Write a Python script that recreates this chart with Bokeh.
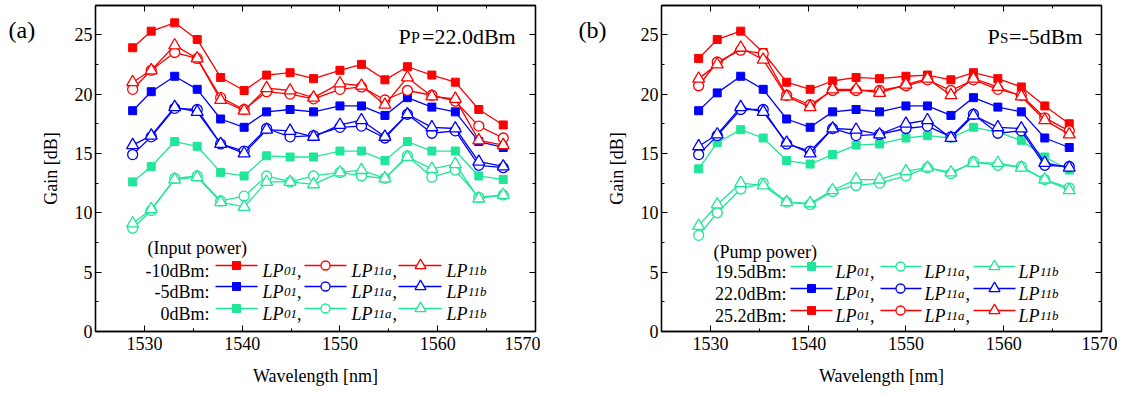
from bokeh.plotting import figure
from bokeh.layouts import row
from bokeh.models import LinearAxis, SingleIntervalTicker, Range1d, Label
from bokeh.embed import file_html
from bokeh.resources import INLINE

# ---------------- data ----------------
wavelength = [1528.8, 1530.7, 1533.1, 1535.4, 1537.8, 1540.2, 1542.5, 1544.9, 1547.3,
              1550.0, 1552.2, 1554.6, 1556.9, 1559.4, 1561.8, 1564.2, 1566.7]

# (a) Pp = 22.0 dBm, input power -10 / -5 / 0 dBm
a_m10_lp01 = [23.9, 25.3, 26.0, 24.6, 21.4, 20.3, 21.6, 21.8, 21.3, 22.0, 22.5, 21.2, 22.3, 21.6, 21.0, 18.7, 17.4]
a_m10_lp11a = [20.4, 22.0, 23.5, 23.0, 19.7, 18.7, 20.2, 20.0, 19.6, 20.4, 20.6, 19.5, 20.3, 19.9, 19.4, 17.3, 16.3]
a_m10_lp11b = [21.0, 22.0, 24.1, 23.0, 19.5, 18.6, 20.5, 20.3, 19.7, 20.9, 20.7, 19.1, 21.4, 19.8, 19.6, 16.1, 15.7]
a_m5_lp01 = [18.6, 20.2, 21.5, 20.4, 17.9, 17.2, 18.5, 18.7, 18.5, 19.0, 19.0, 18.2, 19.7, 18.9, 18.5, 16.0, 15.5]
a_m5_lp11a = [14.9, 16.4, 18.8, 18.7, 15.8, 15.2, 17.1, 16.4, 16.5, 17.2, 17.3, 16.3, 18.3, 16.7, 16.9, 14.0, 13.8]
a_m5_lp11b = [15.7, 16.5, 18.9, 18.5, 15.8, 15.0, 17.0, 16.9, 16.4, 17.4, 17.8, 16.4, 18.3, 17.2, 17.1, 14.3, 13.9]
a_0_lp01 = [12.6, 13.9, 16.0, 15.6, 13.4, 13.1, 14.8, 14.7, 14.7, 15.2, 15.2, 14.4, 16.0, 15.2, 15.2, 13.1, 12.8]
a_0_lp11a = [8.7, 10.2, 12.9, 13.1, 11.0, 11.4, 13.1, 12.6, 13.1, 13.4, 13.1, 12.9, 14.8, 13.0, 13.6, 11.3, 11.5]
a_0_lp11b = [9.1, 10.3, 12.8, 13.0, 10.9, 10.5, 12.6, 12.6, 12.4, 13.4, 13.6, 12.9, 14.7, 13.7, 14.1, 11.2, 11.5]

# (b) Ps = -5 dBm, pump power 19.5 / 22.0 / 25.2 dBm
b_252_lp01 = [23.0, 24.6, 25.3, 23.5, 21.0, 20.4, 21.1, 21.4, 21.3, 21.5, 21.6, 21.2, 21.8, 21.3, 20.6, 19.0, 17.5]
b_252_lp11a = [20.7, 22.7, 23.7, 23.4, 19.9, 19.1, 20.3, 20.3, 20.3, 20.7, 21.2, 20.3, 21.2, 20.4, 19.9, 18.0, 16.9]
b_252_lp11b = [21.3, 22.5, 23.9, 22.9, 19.8, 18.9, 20.4, 20.4, 20.1, 20.8, 21.3, 19.9, 21.3, 20.6, 19.8, 17.8, 16.6]
b_220_lp01 = [18.6, 20.1, 21.5, 20.4, 17.9, 17.2, 18.5, 18.7, 18.5, 19.0, 19.0, 18.2, 19.7, 18.9, 18.5, 16.3, 15.5]
b_220_lp11a = [14.9, 16.5, 18.7, 18.7, 15.8, 15.2, 17.1, 16.5, 16.6, 17.1, 17.3, 16.4, 18.3, 16.7, 16.9, 14.0, 13.9]
b_220_lp11b = [15.6, 16.6, 18.9, 18.5, 15.9, 15.0, 17.1, 17.0, 16.6, 17.5, 17.8, 16.3, 18.2, 17.2, 17.1, 14.2, 13.8]
b_195_lp01 = [13.7, 15.9, 17.0, 16.3, 14.4, 14.1, 14.9, 15.7, 15.8, 16.3, 16.5, 16.3, 17.2, 16.8, 16.1, 14.7, 13.6]
b_195_lp11a = [8.1, 10.0, 12.0, 12.5, 10.9, 10.7, 11.8, 12.3, 12.5, 13.1, 13.8, 13.3, 14.3, 14.0, 13.9, 12.8, 12.1]
b_195_lp11b = [8.9, 10.7, 12.5, 12.3, 10.9, 10.8, 11.9, 12.8, 12.8, 13.5, 13.8, 13.4, 14.2, 14.2, 13.8, 12.8, 11.9]

a_row_labels = ["-10dBm:", "-5dBm:", "0dBm:"]
b_row_labels = ["19.5dBm:", "22.0dBm:", "25.2dBm:"]
mode_names = [("LP", "01", ","), ("LP", "11a", ","), ("LP", "11b", "")]
x_axis_label = "Wavelength [nm]"
y_axis_label = "Gain [dB]"

RED = "#FF0000"
BLUE = "#0000FF"
GREEN = "#1FE698"
FONT = "Liberation Serif"

# ---------------- layout helpers ----------------
X0, X1, Y0, Y1 = 1525, 1570, 0, 27.46
FW, FH = 440, 326
FT = 5
FB = FT + FH  # frame bottom (page px)


def dx(px, fl):
    return X0 + (px - fl) * (X1 - X0) / FW


def dy(py):
    return (FB - py) * (Y1 - Y0) / FH


def mklabel(x, y, text, size, style="normal", align="left"):
    return Label(x=x, y=y, text=text, text_font=FONT, text_font_size=size,
                 text_font_style=style, text_align=align, text_baseline="alphabetic",
                 text_color="black")


def lab(p, x, y, text, size, style="normal", align="left"):
    p.add_layout(mklabel(x, y, text, size, style, align))


def make_fig(mb_left, mb_right):
    p = figure(frame_width=FW, frame_height=FH, x_range=Range1d(X0, X1), y_range=Range1d(Y0, Y1),
               output_backend="svg", toolbar_location=None,
               min_border_left=mb_left, min_border_right=mb_right,
               min_border_top=FT, min_border_bottom=394 - FB,
               styles={"overflow": "hidden"})
    p.xgrid.visible = False
    p.ygrid.visible = False
    p.outline_line_color = "black"
    p.outline_line_width = 1.3
    p.background_fill_color = "white"
    p.border_fill_color = "white"
    p.xaxis.ticker = SingleIntervalTicker(interval=10, num_minor_ticks=2)
    p.yaxis.ticker = SingleIntervalTicker(interval=5, num_minor_ticks=2)
    for ax in (p.xaxis[0], p.yaxis[0]):
        ax.axis_line_color = "black"
        ax.axis_line_width = 1.3
        ax.major_tick_in = 6
        ax.major_tick_out = 0
        ax.minor_tick_in = 3
        ax.minor_tick_out = 0
        ax.major_tick_line_color = "black"
        ax.minor_tick_line_color = "black"
        ax.major_label_text_font = FONT
        ax.major_label_text_font_size = "18px"
        ax.major_label_text_color = "black"
        ax.axis_label_text_font = FONT
        ax.axis_label_text_font_size = "18px"
        ax.axis_label_text_font_style = "normal"
        ax.axis_label_text_color = "black"
    p.xaxis.axis_label = x_axis_label
    p.yaxis.axis_label = y_axis_label
    p.xaxis.major_label_standoff = 5
    p.yaxis.major_label_standoff = 3
    p.xaxis.axis_label_standoff = 13
    p.yaxis.axis_label_standoff = 11
    for loc, interval in (("above", 10), ("right", 5)):
        ax = LinearAxis(ticker=SingleIntervalTicker(interval=interval, num_minor_ticks=2),
                        major_label_text_font_size="1px", major_label_text_color=None,
                        major_label_standoff=0,
                        major_tick_in=6, major_tick_out=0, minor_tick_in=3, minor_tick_out=0,
                        axis_line_color="black", axis_line_width=1.3,
                        major_tick_line_color="black", minor_tick_line_color="black")
        p.add_layout(ax, loc)
    return p


def draw_group(p, lp01, lp11a, lp11b, color):
    for vals, marker, size in ((lp01, "square", 8), (lp11a, "circle", 10), (lp11b, "triangle", 12)):
        p.line(wavelength, vals, line_color=color, line_width=1.3)
        if marker == "square":
            p.scatter(wavelength, vals, marker=marker, size=size, fill_color=color, line_color=color)
        else:
            p.scatter(wavelength, vals, marker=marker, size=size, fill_color="white",
                      line_color=color, line_width=1.3)


def draw_legend(p, fl, title, title_x, title_y, rows_y, labels, colors, label_right,
                lines, markers, text_x):
    lab(p, dx(title_x, fl), dy(title_y + 6), title, "18px")
    for ry, text, color in zip(rows_y, labels, colors):
        base = dy(ry + 5)
        lab(p, dx(label_right, fl), base, text, "18px", align="right")
        for (l0, l1), mx, tx, (main, sub, tail), mk, ms in zip(
                lines, markers, text_x, mode_names, ("square", "circle", "triangle"), (8, 9, 11)):
            p.line([dx(l0, fl), dx(l1, fl)], [dy(ry), dy(ry)], line_color=color, line_width=1.3)
            if mk == "square":
                p.scatter([dx(mx, fl)], [dy(ry)], marker=mk, size=ms, fill_color=color, line_color=color)
            else:
                p.scatter([dx(mx, fl)], [dy(ry)], marker=mk, size=ms, fill_color="white",
                          line_color=color, line_width=1.3)
            lab(p, dx(tx, fl), base, main, "18px", style="italic")
            sub_x = tx + 21.5
            lab(p, dx(sub_x, fl), base, sub, "13px", style="italic")
            if tail:
                lab(p, dx(sub_x + 6.5 * len(sub), fl), base, tail, "18px")


# ---------------- panel (a) ----------------
FLA = 95
pa = make_fig(FLA, 5)
draw_group(pa, a_0_lp01, a_0_lp11a, a_0_lp11b, GREEN)
draw_group(pa, a_m5_lp01, a_m5_lp11a, a_m5_lp11b, BLUE)
draw_group(pa, a_m10_lp01, a_m10_lp11a, a_m10_lp11b, RED)
pa.add_layout(mklabel(dx(8, FLA), dy(29), "(a)", "24px"), "left")
lab(pa, dx(398, FLA), dy(36), "P", "22px")
lab(pa, dx(410.5, FLA), dy(37), "P", "16px")
lab(pa, dx(421.5, FLA), dy(36), "=22.0dBm", "22px")
draw_legend(pa, FLA, "(Input power)", 147, 241, [265, 286, 308], a_row_labels,
            [RED, BLUE, GREEN], 209, [(215, 257), (304, 346), (398, 441)],
            [236, 325, 420], [262, 351, 446])

# ---------------- panel (b) ----------------
P2_START = FLA + FW + 5
FLB = 661
pb = make_fig(FLB - P2_START, 16)
draw_group(pb, b_195_lp01, b_195_lp11a, b_195_lp11b, GREEN)
draw_group(pb, b_220_lp01, b_220_lp11a, b_220_lp11b, BLUE)
draw_group(pb, b_252_lp01, b_252_lp11a, b_252_lp11b, RED)
pb.add_layout(mklabel(dx(578, FLB), dy(29), "(b)", "24px"), "left")
lab(pb, dx(987, FLB), dy(36), "P", "22px")
lab(pb, dx(999.5, FLB), dy(37), "S", "15px")
lab(pb, dx(1008.5, FLB), dy(36), "=-5dBm", "22px")
draw_legend(pb, FLB, "(Pump power)", 713, 245, [266, 288, 310], b_row_labels,
            [GREEN, BLUE, RED], 786, [(790, 832), (880, 921), (973, 1015)],
            [811, 900, 994], [835, 924, 1018])

layout = row(pa, pb)
open("out.html", "w").write(file_html(layout, INLINE))
